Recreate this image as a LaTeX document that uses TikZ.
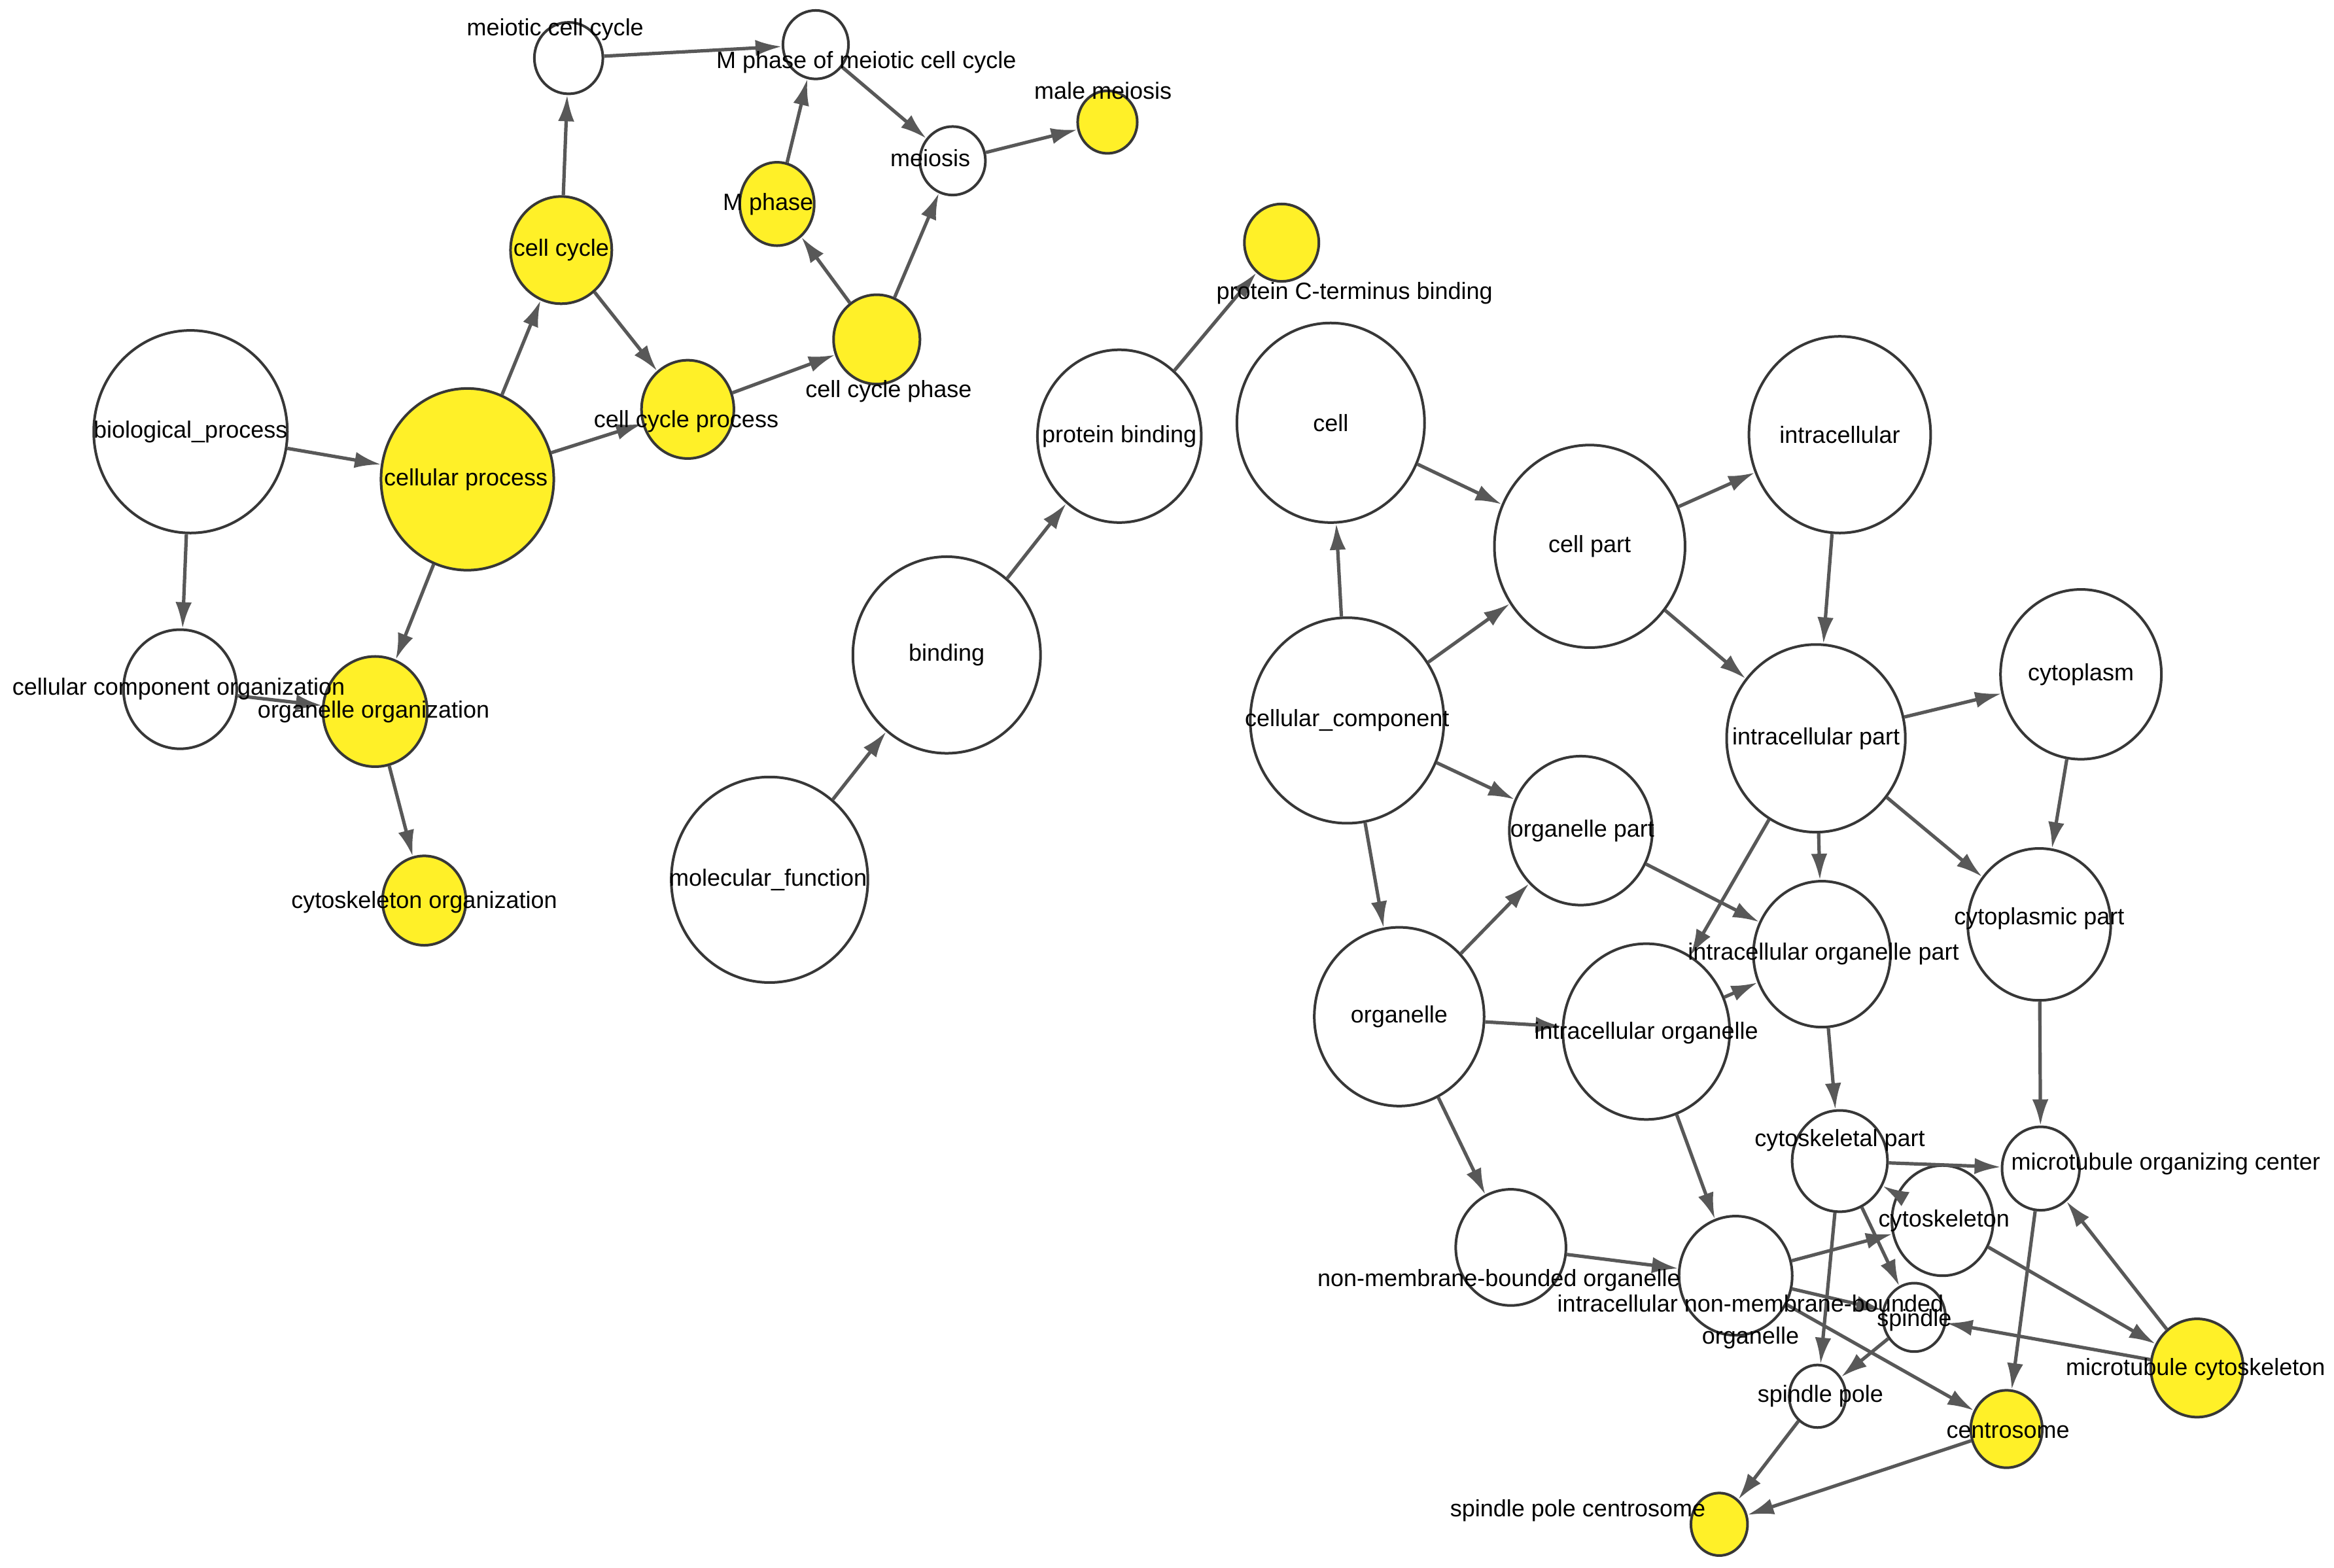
\documentclass[tikz,border=0pt]{standalone}
\usepackage{fontspec}
\setmainfont{Liberation Sans}
\usetikzlibrary{arrows.meta,shapes.geometric}
\definecolor{hitY}{RGB}{255,240,40}
\definecolor{edgeG}{RGB}{88,88,88}
\definecolor{rimG}{RGB}{55,55,55}

\begin{document}
\begin{tikzpicture}[x=0.01cm,y=-0.01cm,>={Latex[length=5pt,width=3.1pt]},
  term/.style={ellipse,draw=rimG,fill=white,line width=0.5pt,inner sep=0pt},
  hit/.style={term,fill=hitY},
  sz/.style 2 args={minimum width=#1*0.1mm,minimum height=#2*0.1mm},
  edge/.style={->,edgeG,line width=0.65pt},
  lbl/.style={font=\fontsize{4.5}{6}\selectfont,inner sep=0pt,align=center}]
\useasboundingbox (0,0) rectangle (1568,1053);
% biological process
\node[term,sz={46}{48}] (mcc) at (382,39) {};
\node[term,sz={44}{46}] (mpmcc) at (548,30) {};
\node[hit,sz={40}{42}] (malemei) at (744,82) {};
\node[term,sz={44}{46}] (meio) at (640,108) {};
\node[hit,sz={50}{56}] (mph) at (522,137) {};
\node[hit,sz={68}{72}] (ccyc) at (377,168) {};
\node[hit,sz={58}{60}] (ccph) at (589,228) {};
\node[hit,sz={62}{66}] (ccproc) at (462,275) {};
\node[term,sz={130}{136}] (bioproc) at (128,290) {};
\node[hit,sz={116}{122}] (cellproc) at (314,322) {};
\node[term,sz={76}{80}] (ccorg) at (121,463) {};
\node[hit,sz={70}{74}] (orgorg) at (252,478) {};
\node[hit,sz={56}{60}] (cskorg) at (285,605) {};
% molecular function
\node[hit,sz={50}{52}] (pctb) at (861,163) {};
\node[term,sz={110}{116}] (protbind) at (752,293) {};
\node[term,sz={126}{132}] (bind) at (636,440) {};
\node[term,sz={132}{138}] (molfun) at (517,591) {};
% cellular component
\node[term,sz={126}{134}] (cell) at (894,284) {};
\node[term,sz={128}{136}] (cellpart) at (1068,367) {};
\node[term,sz={122}{132}] (intra) at (1236,292) {};
\node[term,sz={130}{138}] (cellcomp) at (905,484) {};
\node[term,sz={120}{126}] (intrapart) at (1220,496) {};
\node[term,sz={108}{114}] (cytopl) at (1398,453) {};
\node[term,sz={96}{100}] (orgpart) at (1062,558) {};
\node[term,sz={96}{102}] (cytoplpart) at (1370,621) {};
\node[term,sz={92}{98}] (iorgpart) at (1224,641) {};
\node[term,sz={114}{120}] (orgl) at (940,683) {};
\node[term,sz={112}{118}] (iorg) at (1106,693) {};
\node[term,sz={64}{68}] (cskpart) at (1236,780) {};
\node[term,sz={52}{56}] (mtoc) at (1371,785) {};
\node[term,sz={68}{74}] (csk) at (1305,820) {};
\node[term,sz={74}{78}] (nmbo) at (1015,838) {};
\node[term,sz={76}{80}] (inmbo) at (1166,857) {};
\node[term,sz={42}{46}] (spindle) at (1286,885) {};
\node[term,sz={38}{42}] (sppole) at (1221,938) {};
\node[hit,sz={62}{66}] (mtcsk) at (1476,919) {};
\node[hit,sz={48}{52}] (centro) at (1348,960) {};
\node[hit,sz={38}{42}] (spcentro) at (1155,1024) {};

\draw[edge] (mcc) -- (mpmcc);
\draw[edge] (mpmcc) -- (meio);
\draw[edge] (meio) -- (malemei);
\draw[edge] (mph) -- (mpmcc);
\draw[edge] (ccph) -- (mph);
\draw[edge] (ccph) -- (meio);
\draw[edge] (ccyc) -- (mcc);
\draw[edge] (ccyc) -- (ccproc);
\draw[edge] (ccproc) -- (ccph);
\draw[edge] (cellproc) -- (ccyc);
\draw[edge] (cellproc) -- (ccproc);
\draw[edge] (bioproc) -- (cellproc);
\draw[edge] (bioproc) -- (ccorg);
\draw[edge] (cellproc) -- (orgorg);
\draw[edge] (ccorg) -- (orgorg);
\draw[edge] (orgorg) -- (cskorg);
\draw[edge] (molfun) -- (bind);
\draw[edge] (bind) -- (protbind);
\draw[edge] (protbind) -- (pctb);
\draw[edge] (cellcomp) -- (cell);
\draw[edge] (cell) -- (cellpart);
\draw[edge] (cellcomp) -- (cellpart);
\draw[edge] (cellpart) -- (intra);
\draw[edge] (cellpart) -- (intrapart);
\draw[edge] (intra) -- (intrapart);
\draw[edge] (intrapart) -- (cytopl);
\draw[edge] (cytopl) -- (cytoplpart);
\draw[edge] (intrapart) -- (cytoplpart);
\draw[edge] (intrapart) -- (iorgpart);
\draw[edge] (intrapart) -- (iorg);
\draw[edge] (cellcomp) -- (orgpart);
\draw[edge] (cellcomp) -- (orgl);
\draw[edge] (orgl) -- (orgpart);
\draw[edge] (orgl) -- (iorg);
\draw[edge] (orgpart) -- (iorgpart);
\draw[edge] (iorg) -- (iorgpart);
\draw[edge] (iorgpart) -- (cskpart);
\draw[edge] (cytoplpart) -- (mtoc);
\draw[edge] (orgl) -- (nmbo);
\draw[edge] (iorg) -- (inmbo);
\draw[edge] (nmbo) -- (inmbo);
\draw[edge] (cskpart) -- (mtoc);
\draw[edge] (csk) -- (cskpart);
\draw[edge] (cskpart) -- (spindle);
\draw[edge] (cskpart) -- (sppole);
\draw[edge] (inmbo) -- (csk);
\draw[edge] (inmbo) -- (spindle);
\draw[edge] (inmbo) -- (centro);
\draw[edge] (csk) -- (mtcsk);
\draw[edge] (mtcsk) -- (mtoc);
\draw[edge] (mtcsk) -- (spindle);
\draw[edge] (mtoc) -- (centro);
\draw[edge] (spindle) -- (sppole);
\draw[edge] (sppole) -- (spcentro);
\draw[edge] (centro) -- (spcentro);

% labels on top
\node[lbl] (mcc-l) at (373,20) {meiotic cell cycle};
\node[lbl] (mpmcc-l) at (582,42) {M phase of meiotic cell cycle};
\node[lbl] (malemei-l) at (741,61) {male meiosis};
\node[lbl] (meio-l) at (625,106) {meiosis};
\node[lbl] (mph-l) at (516,137) {M phase};
\node[lbl] (ccyc-l) at (377,168) {cell cycle};
\node[lbl] (ccph-l) at (597,263) {cell cycle phase};
\node[lbl] (ccproc-l) at (461,283) {cell cycle process};
\node[lbl] (bioproc-l) at (128,290) {biological\_process};
\node[lbl] (cellproc-l) at (313,322) {cellular process};
\node[lbl] (ccorg-l) at (120,463) {cellular component organization};
\node[lbl] (orgorg-l) at (251,478) {organelle organization};
\node[lbl] (cskorg-l) at (285,606) {cytoskeleton organization};
\node[lbl] (pctb-l) at (910,197) {protein C-terminus binding};
\node[lbl] (protbind-l) at (752,293) {protein binding};
\node[lbl] (bind-l) at (636,440) {binding};
\node[lbl] (molfun-l) at (516,591) {molecular\_function};
\node[lbl] (cell-l) at (894,284) {cell};
\node[lbl] (cellpart-l) at (1068,367) {cell part};
\node[lbl] (intra-l) at (1236,292) {intracellular};
\node[lbl] (cellcomp-l) at (905,484) {cellular\_component};
\node[lbl] (intrapart-l) at (1220,496) {intracellular part};
\node[lbl] (cytopl-l) at (1398,453) {cytoplasm};
\node[lbl] (orgpart-l) at (1063,558) {organelle part};
\node[lbl] (cytoplpart-l) at (1370,617) {cytoplasmic part};
\node[lbl] (iorgpart-l) at (1225,641) {intracellular organelle part};
\node[lbl] (orgl-l) at (940,683) {organelle};
\node[lbl] (iorg-l) at (1106,694) {intracellular organelle};
\node[lbl] (cskpart-l) at (1236,766) {cytoskeletal part};
\node[lbl] (mtoc-l) at (1455,782) {microtubule organizing center};
\node[lbl] (csk-l) at (1306,820) {cytoskeleton};
\node[lbl] (nmbo-l) at (1007,860) {non-membrane-bounded organelle};
\node[lbl] (inmbo-l) at (1176,888) {intracellular non-membrane-bounded\\organelle};
\node[lbl] (spindle-l) at (1286,887) {spindle};
\node[lbl] (sppole-l) at (1223,938) {spindle pole};
\node[lbl] (mtcsk-l) at (1475,920) {microtubule cytoskeleton};
\node[lbl] (centro-l) at (1349,961) {centrosome};
\node[lbl] (spcentro-l) at (1060,1015) {spindle pole centrosome};
\end{tikzpicture}
\end{document}
